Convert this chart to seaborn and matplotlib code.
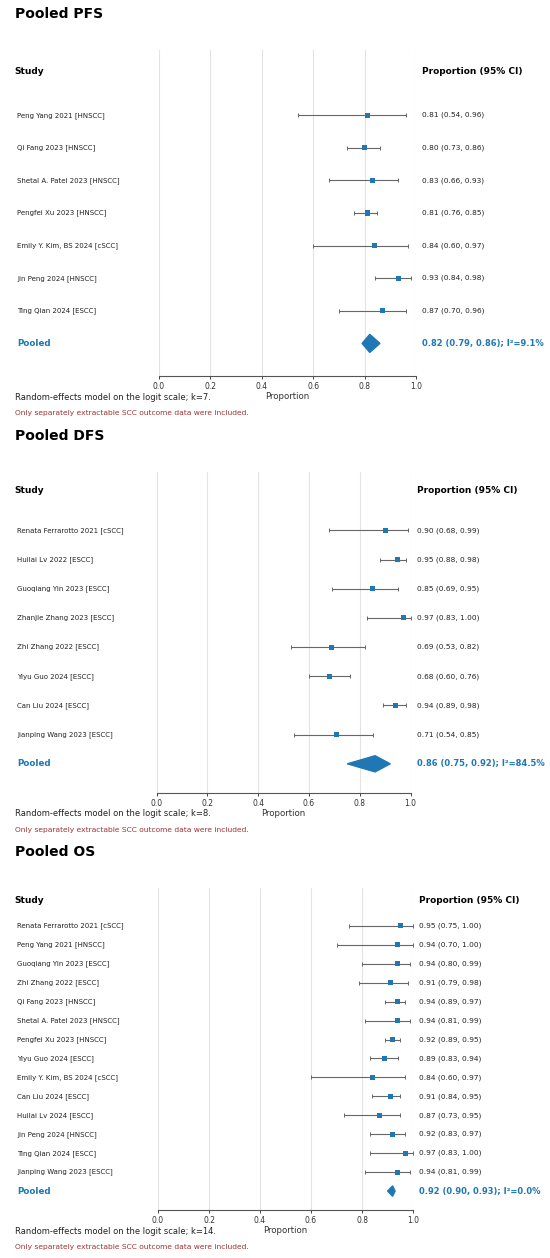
import numpy as np
import pandas as pd
import matplotlib
matplotlib.use("Agg")
import matplotlib.pyplot as plt
import matplotlib.transforms as mtransforms
import seaborn as sns

# ---- data ----
pfs_studies = ["Peng Yang 2021 [HNSCC]", "Qi Fang 2023 [HNSCC]", "Shetal A. Patel 2023 [HNSCC]",
               "Pengfei Xu 2023 [HNSCC]", "Emily Y. Kim, BS 2024 [cSCC]", "Jin Peng 2024 [HNSCC]",
               "Ting Qian 2024 [ESCC]"]
pfs_est = [0.81, 0.80, 0.83, 0.81, 0.84, 0.93, 0.87]
pfs_lo = [0.54, 0.73, 0.66, 0.76, 0.60, 0.84, 0.70]
pfs_hi = [0.96, 0.86, 0.93, 0.85, 0.97, 0.98, 0.96]
pfs_pooled = [0.82, 0.79, 0.86]
pfs_i2 = 9.1

dfs_studies = ["Renata Ferrarotto 2021 [cSCC]", "Huilai Lv 2022 [ESCC]", "Guoqiang Yin 2023 [ESCC]",
               "Zhanjie Zhang 2023 [ESCC]", "Zhi Zhang 2022 [ESCC]", "Yiyu Guo 2024 [ESCC]",
               "Can Liu 2024 [ESCC]", "Jianping Wang 2023 [ESCC]"]
dfs_est = [0.90, 0.95, 0.85, 0.97, 0.69, 0.68, 0.94, 0.71]
dfs_lo = [0.68, 0.88, 0.69, 0.83, 0.53, 0.60, 0.89, 0.54]
dfs_hi = [0.99, 0.98, 0.95, 1.00, 0.82, 0.76, 0.98, 0.85]
dfs_pooled = [0.86, 0.75, 0.92]
dfs_i2 = 84.5

os_studies = ["Renata Ferrarotto 2021 [cSCC]", "Peng Yang 2021 [HNSCC]", "Guoqiang Yin 2023 [ESCC]",
              "Zhi Zhang 2022 [ESCC]", "Qi Fang 2023 [HNSCC]", "Shetal A. Patel 2023 [HNSCC]",
              "Pengfei Xu 2023 [HNSCC]", "Yiyu Guo 2024 [ESCC]", "Emily Y. Kim, BS 2024 [cSCC]",
              "Can Liu 2024 [ESCC]", "Huilai Lv 2024 [ESCC]", "Jin Peng 2024 [HNSCC]",
              "Ting Qian 2024 [ESCC]", "Jianping Wang 2023 [ESCC]"]
os_est = [0.95, 0.94, 0.94, 0.91, 0.94, 0.94, 0.92, 0.89, 0.84, 0.91, 0.87, 0.92, 0.97, 0.94]
os_lo = [0.75, 0.70, 0.80, 0.79, 0.89, 0.81, 0.89, 0.83, 0.60, 0.84, 0.73, 0.83, 0.83, 0.81]
os_hi = [1.00, 1.00, 0.99, 0.98, 0.97, 0.99, 0.95, 0.94, 0.97, 0.95, 0.95, 0.97, 1.00, 0.99]
os_pooled = [0.92, 0.90, 0.93]
os_i2 = 0.0

titles = ["Pooled PFS", "Pooled DFS", "Pooled OS"]
x_ticks = [0.0, 0.2, 0.4, 0.6, 0.8, 1.0]

sns.set_theme(style="white")
plt.rcParams['font.family'] = ['DejaVu Sans']
plt.rcParams['text.color'] = 'black'

W, H = 550, 1258
fig = plt.figure(figsize=(W / 100, H / 100), dpi=100)

BLUE = "#1f77b4"
RED = "#a03232"

# axes boxes in pixels: left, right, top, bottom
boxes = [(159, 416, 50, 376), (156.5, 410.7, 472, 793), (158, 413, 888, 1210)]
panels = [(pfs_studies, pfs_est, pfs_lo, pfs_hi, pfs_pooled, pfs_i2),
          (dfs_studies, dfs_est, dfs_lo, dfs_hi, dfs_pooled, dfs_i2),
          (os_studies, os_est, os_lo, os_hi, os_pooled, os_i2)]


def fx(px):
    return px / W


def fy(py):
    return 1 - py / H


for (left, right, top, bottom), (studies, est, lo, hi, pooled, i2), title in zip(boxes, panels, titles):
    ax = fig.add_axes([fx(left), fy(bottom), (right - left) / W, (bottom - top) / H])
    n = len(studies)
    df = pd.DataFrame({"study": studies, "est": est, "lo": lo, "hi": hi, "row": np.arange(n)})

    # grid
    for t in x_ticks:
        ax.axvline(t, color="#e3e3e3", lw=0.8, zorder=0)

    ax.errorbar(df["est"], df["row"], xerr=[df["est"] - df["lo"], df["hi"] - df["est"]],
                fmt="none", ecolor="#666666", elinewidth=0.8, capsize=1.5, capthick=0.7, zorder=2)
    sns.scatterplot(data=df, x="est", y="row", marker="s", color=BLUE, s=13,
                    edgecolor="none", ax=ax, zorder=3, legend=False)

    # pooled diamond
    p_est, p_lo, p_hi = pooled
    h = 0.28
    ax.fill([p_lo, p_est, p_hi, p_est], [n, n - h, n, n + h], color=BLUE, ec=BLUE, lw=0.9, zorder=3)

    ax.set_xlim(0, 1)
    ax.set_ylim(n + 1, -2)
    ax.set_yticks([])
    ax.set_ylabel("")
    ax.set_xticks(x_ticks)
    ax.set_xticklabels([f"{t:.1f}" for t in x_ticks])
    ax.tick_params(axis="x", labelsize=5.5, length=2.5, width=0.7, pad=1.5,
                   colors="#444444", labelcolor="#333333", bottom=True)
    ax.set_xlabel("Proportion", fontsize=6.2, color="#333333", labelpad=1)
    for s in ["top", "left", "right"]:
        ax.spines[s].set_visible(False)
    ax.spines["bottom"].set_color("#555555")
    ax.spines["bottom"].set_linewidth(0.8)

    trans = mtransforms.blended_transform_factory(fig.transFigure, ax.transData)
    col_x = fx(right + 6)

    ax.text(fx(14.8), -1.35, "Study", transform=trans, fontsize=6.5, fontweight="bold",
            va="center", ha="left", clip_on=False)
    ax.text(col_x, -1.35, "Proportion (95% CI)", transform=trans, fontsize=6.5,
            fontweight="bold", va="center", ha="left", clip_on=False)

    for i, r in df.iterrows():
        ax.text(fx(17), r["row"], r["study"], transform=trans, fontsize=5.0, color="#222222",
                va="center", ha="left", clip_on=False)
        ax.text(col_x, r["row"], f"{r['est']:.2f} ({r['lo']:.2f}, {r['hi']:.2f})",
                transform=trans, fontsize=5.3, color="#222222", va="center", ha="left",
                clip_on=False)

    ax.text(fx(17), n, "Pooled", transform=trans, fontsize=6.3, fontweight="bold",
            color=BLUE, va="center", ha="left", clip_on=False)
    ax.text(col_x, n, f"{p_est:.2f} ({p_lo:.2f}, {p_hi:.2f}); I\u00b2={i2:.1f}%",
            transform=trans, fontsize=6.0, fontweight="bold", color=BLUE,
            va="center", ha="left", clip_on=False)

    fig.text(fx(14.8), fy(top - 36), title, fontsize=10, fontweight="bold",
             va="center", ha="left")
    fig.text(fx(14.8), fy(bottom + 21), f"Random-effects model on the logit scale; k={n}.",
             fontsize=6.0, color="#222222", va="center", ha="left")
    fig.text(fx(14.8), fy(bottom + 37), "Only separately extractable SCC outcome data were included.",
             fontsize=5.4, color=RED, va="center", ha="left")

fig.savefig("out.png", dpi=100)
